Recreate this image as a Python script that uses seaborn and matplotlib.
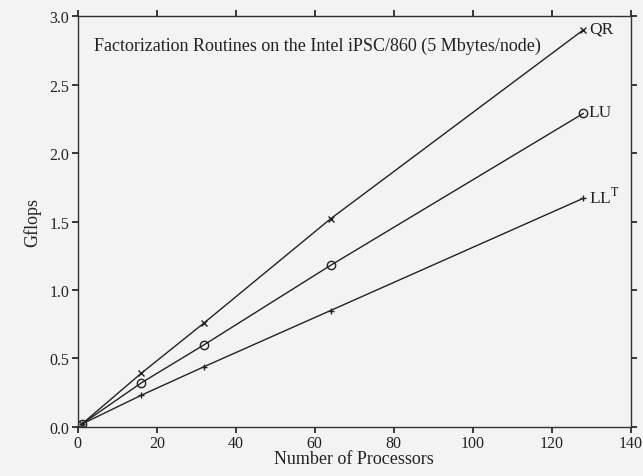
import matplotlib
matplotlib.use("Agg")
import matplotlib.pyplot as plt
import seaborn as sns
import pandas as pd

processors = [1, 16, 32, 64, 128]
qr = [0.02, 0.39, 0.76, 1.52, 2.90]
lu = [0.02, 0.32, 0.60, 1.18, 2.29]
llt = [0.02, 0.23, 0.44, 0.85, 1.67]
series_names = ["QR", "LU", r"LL$^{\mathrm{T}}$"]
series_markers = ["x", "o", "+"]
title_text = "Factorization Routines on the Intel iPSC/860 (5 Mbytes/node)"

sns.set_theme(style="ticks")
plt.rcParams["font.family"] = ["Liberation Serif", "DejaVu Serif"]
plt.rcParams["mathtext.fontset"] = "stix"

fig = plt.figure(figsize=(6.43, 4.77), dpi=100, facecolor="#f3f3f3")
ax = fig.add_axes([0.121, 0.103, 0.860, 0.861])
ax.set_facecolor("#f3f3f3")

sizes = {"x": 4.5, "o": 6, "+": 5}
for name, vals, mk in zip(series_names, [qr, lu, llt], series_markers):
    df = pd.DataFrame({"p": processors, "g": vals})
    sns.lineplot(data=df, x="p", y="g", color="#222222", marker=mk,
                 markersize=sizes[mk], linewidth=1.0, markerfacecolor="none",
                 markeredgecolor="#222222", markeredgewidth=1.0, ax=ax)
    ax.annotate(name, (processors[-1], vals[-1]), xytext=(4, 1),
                textcoords="offset points", va="center", ha="left",
                fontsize=12.5, color="#222222")

ax.text(0.03, 0.93, title_text, transform=ax.transAxes, fontsize=13,
        color="#222222", va="center", ha="left")

ax.set_xlim(0, 140)
ax.set_ylim(0, 3.0)
ax.set_xticks(range(0, 141, 20))
ax.set_yticks([0.0, 0.5, 1.0, 1.5, 2.0, 2.5, 3.0])
ax.set_yticklabels(["0.0", "0.5", "1.0", "1.5", "2.0", "2.5", "3.0"])
ax.set_xlabel("Number of Processors", fontsize=13, labelpad=-1, color="#222222")
ax.set_ylabel("Gflops", fontsize=13, labelpad=6, color="#222222")
ax.tick_params(axis="both", direction="out", length=4, labelsize=11.5,
               colors="#222222", top=True, right=True, pad=2)
for sp in ax.spines.values():
    sp.set_visible(True)
    sp.set_color("#333333")
    sp.set_linewidth(1.0)

fig.savefig("out.png", dpi=100, facecolor=fig.get_facecolor())
